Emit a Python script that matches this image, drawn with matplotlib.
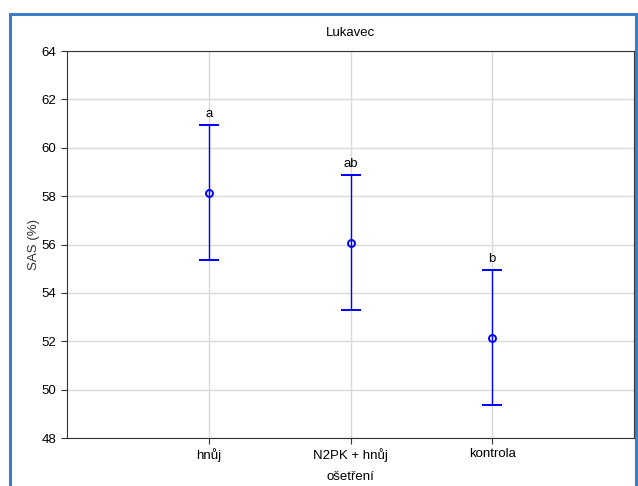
import matplotlib
matplotlib.use("Agg")
import matplotlib.pyplot as plt
from matplotlib.patches import Rectangle

plt.rcParams['font.family'] = ['Liberation Sans', 'DejaVu Sans']

categories = ["hnůj", "N2PK + hnůj", "kontrola"]
means = [58.13, 56.08, 52.14]
upper = [60.93, 58.86, 54.95]
lower = [55.36, 53.29, 49.37]
letters = ["a", "ab", "b"]

fig = plt.figure(figsize=(6.38, 4.86), dpi=100)
ax = fig.add_axes([67 / 638, 1 - 438 / 486, (634 - 67) / 638, (438 - 51) / 486])

x = [1, 2, 3]
err = [[m - l for m, l in zip(means, lower)], [u - m for m, u in zip(means, upper)]]
ax.errorbar(x, means, yerr=err, fmt='o', color='blue', mfc='none', ms=5, mew=1.4,
            elinewidth=1, capsize=7, capthick=1, zorder=3)
for xi, u, t in zip(x, upper, letters):
    ax.text(xi, u + 0.2, t, ha='center', va='bottom', fontsize=9.5)

ax.set_xlim(0, 4)
ax.set_ylim(48, 64)
ax.set_yticks(range(48, 65, 2))
ax.set_xticks(x)
ax.set_xticklabels(categories)
ax.grid(True, color='#d9d9d9', linewidth=1)
ax.set_axisbelow(True)
ax.tick_params(labelsize=9.5, length=4, color='#333333')
for s in ax.spines.values():
    s.set_color('#333333')
ax.set_title("Lukavec", fontsize=9.5, pad=11)
ax.set_xlabel("ošetření", fontsize=9.5, labelpad=6)
ax.set_ylabel("SAS (%)", fontsize=9.5, color='#333333', labelpad=1)

fig.patches.append(Rectangle((9.5 / 638, -0.1), (636 - 9.5) / 638, 1.1 - 14 / 486,
                             transform=fig.transFigure, fill=False,
                             edgecolor='#3c7dc4', linewidth=2.2))

fig.savefig("out.png", dpi=100)
